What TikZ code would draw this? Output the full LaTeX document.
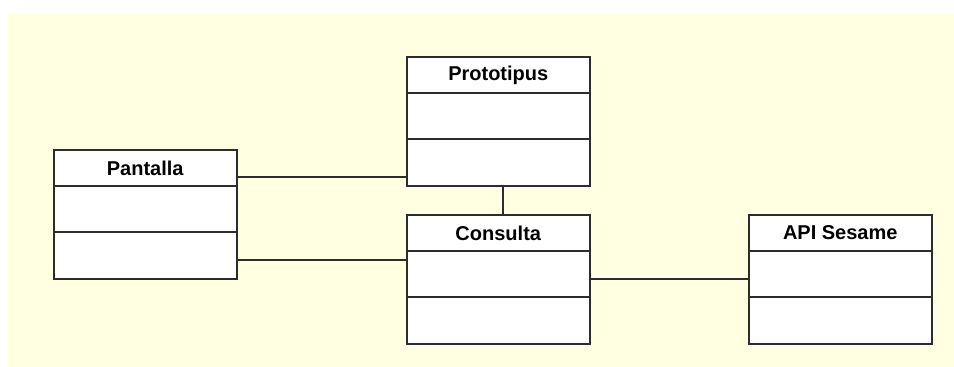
\documentclass[tikz,border=0pt]{standalone}
\usepackage{fontspec}
\setmainfont{Liberation Sans}
\usetikzlibrary{calc,shadows}
\definecolor{canvas}{RGB}{255,255,226}
\definecolor{ink}{RGB}{45,45,45}
\begin{document}
\begin{tikzpicture}[x=1pt,y=-1pt,
  umlclass/.style={draw=ink, line width=1.5pt, fill=white, anchor=north west,
    minimum width=183pt, minimum height=129pt, inner sep=0pt,
    drop shadow={shadow xshift=1.2pt, shadow yshift=-1.2pt, fill=black!45, opacity=1}},
  classname/.style={font=\bfseries\fontsize{20}{22}\selectfont, inner sep=0pt, anchor=center},
  compartment/.style={draw=ink, line width=1.5pt},
  assoc/.style={draw=ink, line width=1.5pt}]

  % page and canvas
  \useasboundingbox (0,0) rectangle (954,367);
  \fill[canvas] (8,13) rectangle (954,367);

  % classes
  \node[umlclass] (pan) at (53,149) {};
  \node[umlclass] (pro) at (406,56) {};
  \node[umlclass] (con) at (406,214) {};
  \node[umlclass] (api) at (748,214) {};

  % names and compartment separators
  \foreach \c/\t in {pan/Pantalla, pro/Prototipus, con/Consulta, api/API Sesame} {
    \node[classname] (\c-name) at ($(\c.north)+(0,19)$) {\t};
    \draw[compartment] ($(\c.north west)+(0,37)$) -- ($(\c.north east)+(0,37)$);
    \draw[compartment] ($(\c.north west)+(0,83)$) -- ($(\c.north east)+(0,83)$);
  }

  % associations
  \coordinate (panA) at ($(pan.north east)+(0,28)$);
  \coordinate (panB) at ($(pan.north east)+(0,111)$);
  \coordinate (proB) at ($(pro.south)+(4.5,0)$);
  \coordinate (conR) at ($(con.north east)+(0,65)$);
  \draw[assoc] (panA) -- (panA -| pro.west);
  \draw[assoc] (panB) -- (panB -| con.west);
  \draw[assoc] (proB) -- (proB |- con.north);
  \draw[assoc] (conR) -- (conR -| api.west);
\end{tikzpicture}
\end{document}
